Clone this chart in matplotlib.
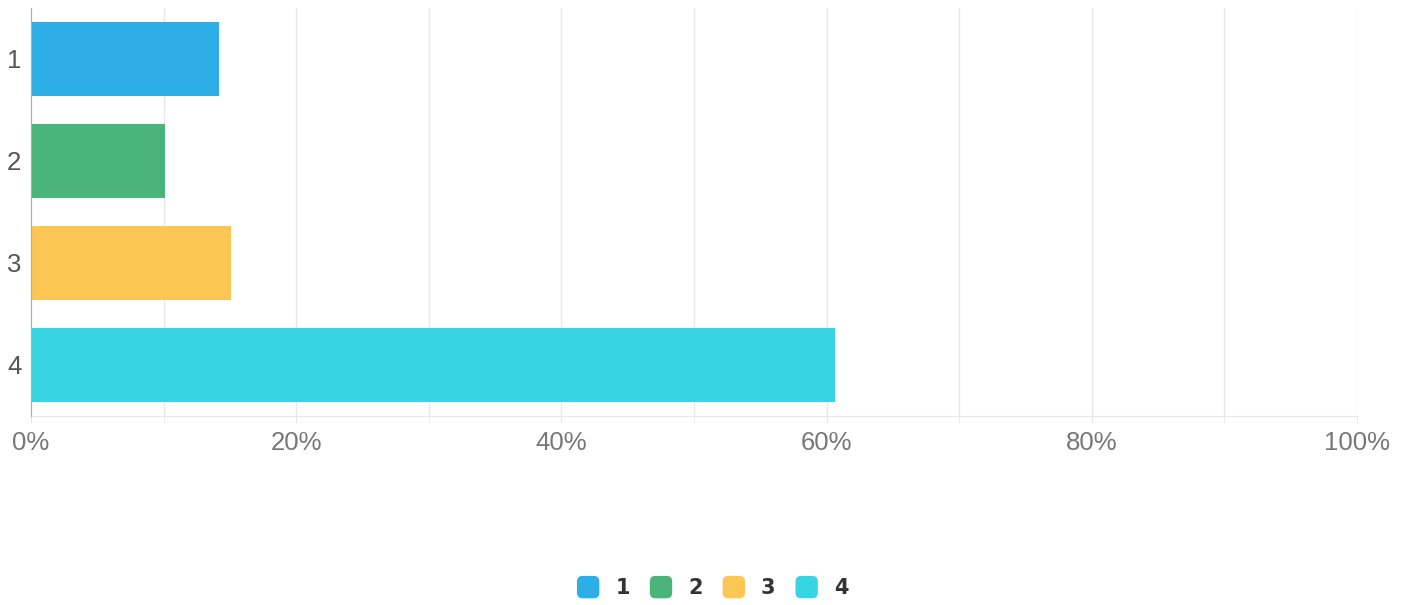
import numpy as np
import matplotlib.pyplot as plt
from matplotlib.patches import FancyBboxPatch, Patch
from matplotlib.legend_handler import HandlerPatch

categories = ["1", "2", "3", "4"]
shares = [14.2, 10.1, 15.1, 60.6]
colors = ["#2eaee6", "#4bb47a", "#fcc655", "#37d5e4"]
major_ticks = [0, 20, 40, 60, 80, 100]
minor_ticks = [10, 30, 50, 70, 90]

plt.rcParams["font.family"] = ["Liberation Sans", "DejaVu Sans"]


class RoundSquareHandler(HandlerPatch):
    # draws legend keys as small rounded squares
    def create_artists(self, legend, orig_handle, xdescent, ydescent,
                       width, height, fontsize, trans):
        size = min(width, height) * 1.2
        x0 = -xdescent + (width - size) / 2
        y0 = -ydescent + (height - size) / 2
        p = FancyBboxPatch((x0, y0), size, size,
                           boxstyle="round,pad=0,rounding_size=%f" % (size * 0.25),
                           facecolor=orig_handle.get_facecolor(),
                           edgecolor="none", transform=trans)
        return [p]


fig = plt.figure(figsize=(14.09, 6.05), dpi=100)
ax = fig.add_axes([31 / 1409, 1 - 416 / 605, 1326 / 1409, 408 / 605])

y = np.arange(len(categories))
ax.barh(y, shares, height=0.72, color=colors, zorder=3)

ax.set_xlim(0, 100)
ax.set_ylim(len(categories) - 0.5, -0.5)
ax.set_yticks(y)
ax.set_yticklabels(categories)
ax.set_xticks(major_ticks)
ax.set_xticklabels([f"{t}%" for t in major_ticks])
ax.set_xticks(minor_ticks, minor=True)

ax.grid(True, axis="x", which="both", color="#e8e8e8", linewidth=1, zorder=0)
ax.tick_params(axis="x", which="both", length=5, color="#e8e8e8",
               labelsize=18.5, labelcolor="#777777", pad=6)
ax.tick_params(axis="y", length=0, labelsize=18.5, labelcolor="#555555", pad=7)

for s in ["top", "right"]:
    ax.spines[s].set_visible(False)
ax.spines["bottom"].set_color("#e8e8e8")
ax.spines["left"].set_color("#aaaaaa")
ax.spines["left"].set_zorder(4)

handles = [Patch(facecolor=c) for c in colors]
fig.legend(handles, categories, loc="center", bbox_to_anchor=(713 / 1409, 1 - 588 / 605),
           ncol=4, frameon=False, handlelength=1.0, handleheight=1.0,
           handletextpad=0.8, columnspacing=1.0,
           handler_map={Patch: RoundSquareHandler()},
           prop={"family": ["DejaVu Sans"], "size": 15, "weight": "semibold"},
           labelcolor="#333333")

fig.savefig("out.png", dpi=100)
